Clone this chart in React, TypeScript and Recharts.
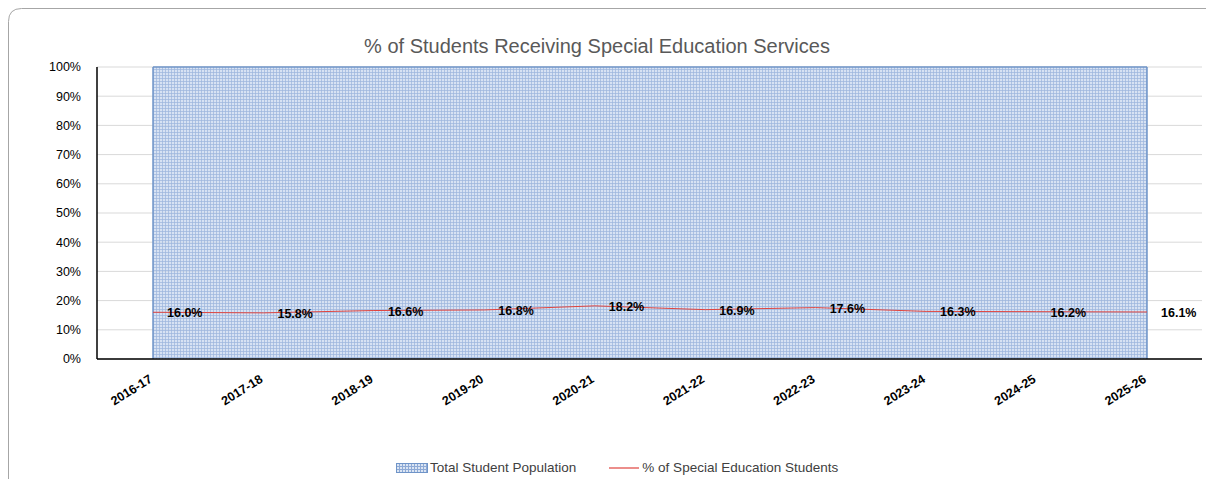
import React from "react";
import {
  ComposedChart,
  Area,
  Line,
  XAxis,
  YAxis,
  CartesianGrid,
  ReferenceLine,
  LabelList,
} from "recharts";

const years = [
  "2016-17",
  "2017-18",
  "2018-19",
  "2019-20",
  "2020-21",
  "2021-22",
  "2022-23",
  "2023-24",
  "2024-25",
  "2025-26",
];
const totalPopulation = [100, 100, 100, 100, 100, 100, 100, 100, 100, 100];
const specialEdPct = [16.0, 15.8, 16.6, 16.8, 18.2, 16.9, 17.6, 16.3, 16.2, 16.1];
const yTicks = [0, 10, 20, 30, 40, 50, 60, 70, 80, 90, 100];

const data = years.map((year, i) => ({
  year,
  total: totalPopulation[i],
  sped: specialEdPct[i],
}));

const FONT = "'Liberation Sans', Arial, sans-serif";
const AREA_EDGE = "#6f94c8";
const LINE_RED = "#e0443e";

const XTick = (props: any) => {
  const { x, y, payload } = props;
  const ax = x - 2;
  const ay = y + 11;
  return (
    <text
      x={ax}
      y={ay}
      transform={`rotate(-32 ${ax} ${ay})`}
      textAnchor="end"
      dominantBaseline="central"
      fontFamily={FONT}
      fontSize={12.5}
      fontWeight="bold"
      fill="#000"
    >
      {payload.value}
    </text>
  );
};

const PctLabel = (props: any) => {
  const { x, y, value } = props;
  return (
    <text
      x={x + 14}
      y={y + 1}
      dominantBaseline="central"
      fontFamily={FONT}
      fontSize={12.5}
      fontWeight="bold"
      fill="#000"
    >
      {Number(value).toFixed(1)}%
    </text>
  );
};

const GridSwatch = () => (
  <svg width={32} height={10} style={{ display: "block" }}>
    <defs>
      <pattern id="legendGrid" width={3} height={3} patternUnits="userSpaceOnUse">
        <rect width={3} height={3} fill="#dbe5f3" />
        <path d="M0 0.5H3M0.5 0V3" stroke="#8eaad6" strokeWidth={1} />
      </pattern>
    </defs>
    <rect x={0.5} y={0.5} width={31} height={9} fill="url(#legendGrid)" stroke={AREA_EDGE} />
  </svg>
);

const LineSwatch = () => (
  <svg width={30} height={10} style={{ display: "block" }}>
    <line x1={0} y1={5} x2={30} y2={5} stroke={LINE_RED} strokeWidth={1.2} />
  </svg>
);

export default function App() {
  // outer box sits in the body margin; inner layer uses page coordinates
  return (
    <div style={{ position: "relative", width: 1198, height: 471 }}>
      <div style={{ position: "absolute", left: -8, top: -8, width: 1214, height: 487 }}>
        <div
          style={{
            position: "absolute",
            left: 0,
            width: 1194,
            top: 35,
            textAlign: "center",
            fontFamily: FONT,
            fontSize: 20,
            color: "#595959",
          }}
        >
          % of Students Receiving Special Education Services
        </div>
        <div style={{ position: "absolute", left: 0, top: 0 }}>
          <ComposedChart
            width={1214}
            height={487}
            data={data}
            margin={{ top: 67, right: 12, left: 37, bottom: 68 }}
          >
            <defs>
              <pattern id="areaGrid" width={3} height={3} patternUnits="userSpaceOnUse">
                <rect width={3} height={3} fill="#c9d8ee" fillOpacity={0.75} />
                <path d="M0 0.5H3M0.5 0V3" stroke="#9bb6de" strokeWidth={1} strokeOpacity={0.7} />
              </pattern>
            </defs>
            <CartesianGrid vertical={false} stroke="#d9d9d9" strokeWidth={1} />
            <XAxis
              dataKey="year"
              padding={{ left: 56, right: 55 }}
              tickLine={false}
              axisLine={{ stroke: "#000", strokeWidth: 1.5 }}
              tick={<XTick />}
              interval={0}
              height={60}
            />
            <YAxis
              domain={[0, 100]}
              ticks={yTicks}
              tickFormatter={(v) => `${v}%`}
              tickLine={false}
              axisLine={{ stroke: "#000", strokeWidth: 1.5 }}
              width={60}
              tick={{ fontFamily: FONT, fontSize: 12.5, fill: "#000" }}
              tickMargin={10}
            />
            <Area
              type="linear"
              dataKey="total"
              fill="url(#areaGrid)"
              fillOpacity={1}
              stroke={AREA_EDGE}
              strokeWidth={1.5}
              isAnimationActive={false}
              dot={false}
              activeDot={false}
            />
            <ReferenceLine x={years[0]} stroke={AREA_EDGE} strokeWidth={1.5} />
            <ReferenceLine x={years[years.length - 1]} stroke={AREA_EDGE} strokeWidth={1.5} />
            <Line
              type="linear"
              dataKey="sped"
              stroke={LINE_RED}
              strokeWidth={1}
              dot={false}
              activeDot={false}
              isAnimationActive={false}
            >
              <LabelList dataKey="sped" content={<PctLabel />} />
            </Line>
          </ComposedChart>
        </div>
        <div
          style={{
            position: "absolute",
            top: 460,
            left: 396,
            display: "flex",
            alignItems: "center",
            fontFamily: FONT,
            fontSize: 13.5,
            color: "#404040",
          }}
        >
          <GridSwatch />
          <span style={{ marginLeft: 2 }}>Total Student Population</span>
          <span style={{ marginLeft: 33 }}>
            <LineSwatch />
          </span>
          <span style={{ marginLeft: 3 }}>% of Special Education Students</span>
        </div>
        <svg
          width={1214}
          height={487}
          style={{ position: "absolute", left: 0, top: 0, pointerEvents: "none" }}
        >
          <path
            d="M8.5 487 V21.5 Q8.5 8.5 21.5 8.5 H1214"
            fill="none"
            stroke="#a6a6a6"
            strokeWidth={1}
          />
        </svg>
      </div>
    </div>
  );
}
